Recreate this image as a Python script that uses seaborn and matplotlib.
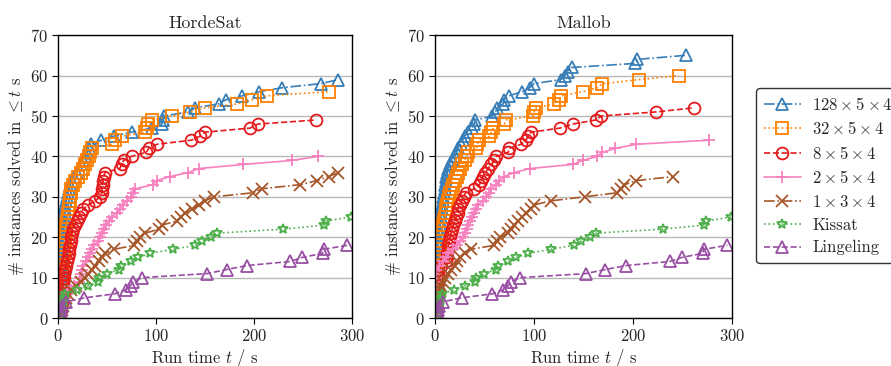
import numpy as np
import pandas as pd
import matplotlib
matplotlib.use("Agg")
import matplotlib.pyplot as plt
import seaborn as sns

# solve times (s) of each instance, sorted -> cactus plot
horde_128 = [1.0, 1.2, 1.4, 1.6, 1.8, 2.0, 2.2, 2.4, 2.6, 2.8, 3.0, 3.2, 3.4, 3.7, 4.0, 4.1,
             4.2, 4.5, 4.8, 5.1, 5.4, 5.7, 6.0, 6.3, 6.6, 6.9, 7.2, 7.5,
             8, 9, 10, 11, 12.5, 14, 16, 19, 21, 23, 25, 28, 30, 32, 34,
             44, 57, 75, 96, 106, 107, 108, 133, 140, 164, 171, 188, 205, 229, 268, 286]
horde_32 = [2.0, 2.2, 2.4, 2.6, 2.8, 3.0, 3.2, 3.4, 3.6, 3.8, 4.0, 4.2,
            4.6, 5.0, 5.4, 5.8, 6.2, 6.6, 7.0, 7.4, 7.8, 8.2, 8.6, 9.2, 9.8,
            10.3, 10.8, 11.3, 11.8, 12.3, 12.8, 13.3,
            15, 17, 20, 23, 26, 28, 30, 32,
            33, 35, 55, 58, 65, 89, 91, 92, 96, 116, 135, 150, 183, 198, 213, 276]
horde_8 = [2.5, 3.0, 3.3, 3.6, 3.9, 4.2, 4.5, 4.8,
           5.2, 5.8, 6.5, 7.5, 8.3, 9.0, 10.0, 11.0,
           11.6, 12.2, 12.8, 13.4, 14.0, 15.5, 17, 19,
           21, 23, 26, 31, 38,
           43, 44.5, 45, 45.5, 46, 46.5, 48,
           63, 65, 67, 75, 90, 92.5, 101, 136, 145, 150, 196, 204, 263]
horde_2 = [3.5, 4, 4.5, 5.5, 7, 9, 13, 16, 21, 22, 23, 24.5, 26, 28.5,
           31, 33, 35, 37, 41, 43, 45, 47, 49, 52, 55, 60,
           63, 66, 70, 74, 77, 79, 97, 101, 114, 133, 144, 189, 239, 265]
horde_1 = [3.5, 4, 5, 6, 8, 10, 13, 18, 23, 28, 31, 35, 38, 41.5, 45, 48, 57,
           78, 81, 84, 89, 103, 106, 121, 125, 130, 137, 144, 150, 159,
           199, 208, 247, 264, 276, 286]

mallob_128 = [0.5, 0.6, 0.7, 0.8, 0.9, 1.0, 1.1, 1.2, 1.3, 1.4, 1.5, 1.6, 1.7, 1.8, 1.9,
              2.2, 2.5, 2.8, 3.2, 3.6, 4.0, 4.4, 4.8, 5.3, 5.8, 6.3, 6.8, 7.4, 8.0,
              8.6, 9.2, 9.8, 10.4, 11, 11.6, 12.3, 13,
              15, 17, 20, 22, 23.5, 26, 28, 30, 33.5, 37, 40, 41,
              58, 61, 63, 69, 70, 75, 88, 95.5, 100, 127, 131, 134, 138, 202, 204, 253]
mallob_32 = [0.8, 0.9, 1.0, 1.1, 1.2, 1.3, 1.4, 1.5, 1.6, 1.7, 1.8, 1.9, 2.0,
             3.4, 3.9, 4.3, 4.8, 5.2, 5.7, 6.2, 6.7,
             7.5, 8.3, 9.2, 10, 10.8, 11.6, 12.5, 13.4,
             14.5, 15.8, 17, 18.5, 20, 22, 23.5, 25.5, 27, 30, 32, 33.5,
             42, 43, 44.6, 55, 57, 59, 70, 72, 99, 100, 102, 120, 125, 127,
             149, 164, 169, 206, 246]
mallob_8 = [1.0, 1.2, 1.4, 1.6, 1.8, 2.0, 2.2, 2.4, 2.6, 2.8, 3.0, 3.4,
            6.7, 11.7,
            12.2, 12.7, 13.2, 13.6, 14.5, 15.5, 16.5, 17.5, 18.8, 20,
            21.5, 23, 23.5, 25, 27, 29, 31,
            40, 45, 47, 48.6, 51, 53.6, 57, 60, 62,
            74, 75, 87, 92, 94, 97, 126, 139, 162, 168, 223, 261]
mallob_2 = [0.6, 0.7, 0.8, 0.9, 1.0, 1.1, 1.2, 1.3, 1.4, 1.5, 1.6, 1.7,
            4, 8.4, 11, 13.4, 18.4, 22, 25, 28, 30,
            32, 33.5, 35, 37.5, 40, 42, 43.6, 48.6,
            52, 55, 57, 62, 65, 70, 80, 96,
            139, 149, 164, 169, 182, 203, 276]
mallob_1 = [1.5, 2, 2.5, 3, 3.5, 4.5, 5.5, 6.7,
            8.5, 10, 13.4, 16, 20, 22.5, 25, 30, 36,
            60, 63, 66, 74, 77, 80, 84, 88, 92, 97, 100, 117, 151, 184, 188, 191, 203, 240]

kissat = [3, 3.5, 4, 5, 6, 7.5, 19.4, 30.6, 41, 42, 50, 62, 64, 74, 82, 94,
          117, 140, 147, 156, 162, 230, 271, 273, 299]
lingeling = [3, 3.5, 4, 8, 27, 58, 69, 74, 77, 86, 152, 172, 193, 237, 249, 270, 271, 295]

labels = [r"$128 \times 5 \times 4$", r"$32 \times 5 \times 4$", r"$8 \times 5 \times 4$",
          r"$2 \times 5 \times 4$", r"$1 \times 3 \times 4$", "Kissat", "Lingeling"]
colors = ["#377eb8", "#ff7f00", "#e41a1c", "#f781bf", "#a65628", "#4daf4a", "#984ea3"]
markers = ["^", "s", "o", "+", "x", "*", "^"]
styles = ["-.", ":", "--", "-", "-.", ":", "--"]
msizes = [8.5, 8, 8.5, 8.5, 8.5, 7.5, 8.5]

panels = {
    "HordeSat": [horde_128, horde_32, horde_8, horde_2, horde_1, kissat, lingeling],
    "Mallob": [mallob_128, mallob_32, mallob_8, mallob_2, mallob_1, kissat, lingeling],
}

sns.set_theme(style="ticks")
plt.rcParams["font.family"] = ["cmr10", "DejaVu Serif"]
plt.rcParams["mathtext.fontset"] = "cm"
plt.rcParams["axes.unicode_minus"] = False
plt.rcParams["axes.formatter.use_mathtext"] = True

fig = plt.figure(figsize=(8.91, 3.66), dpi=100)
ax_l = fig.add_axes([0.0651, 0.131, 0.330, 0.773])
ax_r = fig.add_axes([0.488, 0.131, 0.334, 0.773])

for ax, (name, series) in zip([ax_l, ax_r], panels.items()):
    for times, lab, c, m, ls, ms in zip(series, labels, colors, markers, styles, msizes):
        df = pd.DataFrame({"t": times, "n": np.arange(1, len(times) + 1)})
        sns.lineplot(data=df, x="t", y="n", ax=ax, estimator=None, sort=False,
                     color=c, marker=m, linestyle=ls, linewidth=1.2,
                     markersize=ms, markerfacecolor="none", markeredgecolor=c,
                     markeredgewidth=1.3, label=lab, legend=False)
    ax.set_xlim(0, 300)
    ax.set_ylim(0, 70)
    ax.set_xticks([0, 100, 200, 300])
    ax.set_yticks(range(0, 71, 10))
    ax.yaxis.grid(True, color="0.72", linewidth=1)
    ax.set_axisbelow(True)
    for s in ax.spines.values():
        s.set_color("black")
        s.set_linewidth(1)
    ax.tick_params(labelsize=12, length=4, width=0.8, color="black", pad=3)
    ax.set_title(name, fontsize=13, pad=5)
    ax.set_xlabel(r"Run time $t$ / s", fontsize=12, labelpad=2)
    ax.set_ylabel(r"# instances solved in $\leq t$ s", fontsize=12, labelpad=3)

handles, labs = ax_l.get_legend_handles_labels()
fig.legend(handles, labs, loc="upper left", bbox_to_anchor=(748 / 891, 1 - 80 / 366),
           fontsize=12, frameon=True, fancybox=True, edgecolor="0.2",
           framealpha=1, handlelength=2.2, borderpad=0.45, labelspacing=0.45,
           handletextpad=0.7)

fig.savefig("out.png", dpi=100)
